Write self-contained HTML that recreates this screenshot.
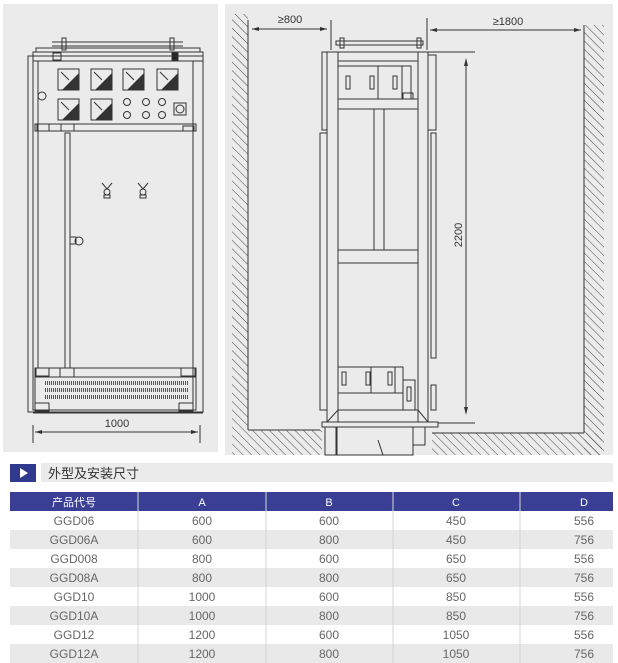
<!DOCTYPE html>
<html><head><meta charset="utf-8"><style>
body{margin:0;background:#fff;width:618px;height:663px;overflow:hidden;font-family:"Liberation Sans","Noto Sans CJK SC",sans-serif}
svg{display:block}
</style></head><body>
<svg width="618" height="663" viewBox="0 0 618 663" xmlns="http://www.w3.org/2000/svg" font-family="Liberation Sans, Noto Sans CJK SC, sans-serif">
<defs>
<pattern id="h" width="6" height="6" patternUnits="userSpaceOnUse" patternTransform="rotate(-45)"><line x1="0" y1="0" x2="0" y2="6" stroke="#333" stroke-width="0.9"/></pattern>
</defs>
<rect x="3" y="4" width="215" height="448" fill="#ebebeb"/>
<rect x="225" y="4" width="388" height="451" fill="#ebebeb"/>
<g fill="none" stroke="#333" stroke-width="1">
<line x1="52" y1="42" x2="183" y2="42"/><line x1="52" y1="46" x2="183" y2="46"/>
<rect x="62" y="38" width="4" height="12"/><rect x="170" y="38" width="4" height="12"/>
<rect x="36" y="48" width="164" height="4"/>
<rect x="33" y="52" width="170" height="9"/>
<rect x="53" y="53" width="8" height="7"/><rect x="172" y="53" width="6" height="7" fill="#222"/>
<rect x="28" y="56" width="175" height="356"/>
<rect x="33" y="61" width="160" height="349"/>
<line x1="38" y1="61" x2="38" y2="368"/><line x1="193" y1="61" x2="193" y2="368"/>
<rect x="58" y="69" width="21" height="21"/><rect x="91" y="69" width="21" height="21"/><rect x="123" y="69" width="21" height="21"/><rect x="157" y="69" width="21" height="21"/>
<rect x="58" y="99" width="21" height="21"/><rect x="91" y="99" width="21" height="21"/>
<circle cx="42" cy="96" r="4"/>
<circle cx="127" cy="102" r="3.5"/><circle cx="146" cy="102" r="3.5"/><circle cx="162" cy="102" r="3.5"/>
<circle cx="127" cy="115" r="3.5"/><circle cx="146" cy="115" r="3.5"/><circle cx="162" cy="115" r="3.5"/>
<rect x="174" y="103" width="12" height="12"/><circle cx="180" cy="109" r="4"/>
<rect x="35" y="124" width="161" height="7"/>
<rect x="37" y="124" width="12" height="7"/><rect x="61" y="124" width="13" height="7"/><rect x="183" y="126" width="11" height="5"/>
<rect x="65" y="133" width="5" height="235"/>
<rect x="70" y="237" width="6" height="7"/><circle cx="79" cy="241" r="4"/>
<rect x="35" y="368" width="161" height="9"/>
<rect x="36" y="368" width="13" height="8"/><rect x="60" y="368" width="14" height="9"/><rect x="181" y="368" width="14" height="8"/>
<rect x="35" y="377" width="161" height="33"/>
<rect x="35" y="403" width="14" height="8"/><rect x="179" y="403" width="14" height="8"/>
<line x1="33" y1="413" x2="203" y2="413"/>
<line x1="33" y1="425" x2="33" y2="443"/><line x1="200" y1="425" x2="200" y2="443"/>
<line x1="35" y1="432" x2="198" y2="432"/>
<line x1="248" y1="20" x2="248" y2="430"/><line x1="584" y1="25" x2="584" y2="433"/>
<line x1="248" y1="430" x2="320" y2="430"/><line x1="432" y1="433" x2="584" y2="433"/>
<line x1="331" y1="20" x2="331" y2="50"/><line x1="427" y1="18" x2="427" y2="50"/>
<line x1="252" y1="29" x2="327" y2="29"/><line x1="430" y1="30" x2="581" y2="30"/>
<rect x="336" y="41" width="87" height="4"/>
<rect x="340" y="38" width="4" height="10"/><rect x="417" y="38" width="4" height="10"/>
<line x1="322" y1="52" x2="475" y2="52"/>
<rect x="327" y="52" width="101" height="370"/>
<rect x="338" y="52" width="80" height="370"/>
<line x1="338" y1="61" x2="418" y2="61"/>
<rect x="322" y="52" width="5" height="78"/><rect x="428" y="55" width="8" height="75"/>
<rect x="320" y="133" width="7" height="277"/><rect x="431" y="133" width="5" height="225"/>
<rect x="431" y="385" width="5" height="25"/>
<rect x="338" y="66" width="40" height="33"/><rect x="378" y="66" width="24" height="33"/><rect x="402" y="66" width="9" height="33"/>
<rect x="346" y="76" width="4" height="13"/><rect x="370" y="76" width="4" height="13"/><rect x="393" y="76" width="4" height="13"/>
<rect x="403" y="93" width="10" height="6"/>
<line x1="338" y1="99" x2="418" y2="99"/><line x1="338" y1="109" x2="418" y2="109"/>
<rect x="374" y="109" width="10" height="141"/>
<rect x="338" y="250" width="80" height="13"/>
<rect x="338" y="367" width="33" height="26"/><rect x="371" y="367" width="24" height="26"/><rect x="395" y="367" width="8" height="26"/>
<rect x="342" y="372" width="4" height="13"/><rect x="366" y="372" width="4" height="13"/><rect x="388" y="372" width="4" height="13"/>
<rect x="403" y="380" width="12" height="30"/><rect x="407" y="387" width="4" height="14"/>
<line x1="338" y1="410" x2="418" y2="410"/>
<polygon points="327,422 428,422 418,410 338,410"/>
<rect x="322" y="422" width="116" height="5"/>
<rect x="325" y="427" width="11" height="28"/><rect x="337" y="427" width="76" height="28"/><rect x="413" y="427" width="12" height="18"/>
<line x1="378" y1="440" x2="383" y2="455"/>
<line x1="466" y1="60" x2="466" y2="413"/>
<line x1="438" y1="423" x2="475" y2="423"/>
</g>
<g fill="#333">
<polygon points="35,432 42,430 42,434"/><polygon points="198,432 191,430 191,434"/>
<polygon points="252,29 259,27 259,31"/><polygon points="327,29 320,27 320,31"/>
<polygon points="430,30 437,28 437,32"/><polygon points="581,30 574,28 574,32"/>
<polygon points="466,58 464,66 468,66"/><polygon points="466,415 464,407 468,407"/>
<polygon points="62,90 79,73 79,90"/><polygon points="95,90 112,73 112,90"/><polygon points="127,90 144,73 144,90"/><polygon points="161,90 178,73 178,90"/>
<polygon points="62,120 79,103 79,120"/><polygon points="95,120 112,103 112,120"/>
</g>
<g stroke="#333" stroke-width="1"><line x1="61" y1="72" x2="69" y2="80"/><line x1="94" y1="72" x2="102" y2="80"/><line x1="126" y1="72" x2="134" y2="80"/><line x1="160" y1="72" x2="168" y2="80"/><line x1="61" y1="102" x2="69" y2="110"/><line x1="94" y1="102" x2="102" y2="110"/></g>
<g stroke="#555" stroke-width="4" stroke-dasharray="1,1"><line x1="45" y1="383" x2="188" y2="383"/><line x1="45" y1="390" x2="188" y2="390"/><line x1="45" y1="397" x2="188" y2="397"/></g>
<g fill="none" stroke="#333"><circle cx="107" cy="192" r="3"/><circle cx="143" cy="192" r="3"/><path d="M102,183 L107,189 L112,183 M138,183 L143,189 L148,183"/><rect x="104" y="195" width="6" height="3"/><rect x="140" y="195" width="6" height="3"/></g>
<rect x="232" y="14" width="16" height="441" fill="url(#h)"/>
<rect x="248" y="430" width="74" height="25" fill="url(#h)"/>
<rect x="432" y="433" width="170" height="22" fill="url(#h)"/>
<rect x="584" y="25" width="20" height="430" fill="url(#h)"/>
<g fill="#333" font-size="11">
<text x="117" y="427" text-anchor="middle">1000</text>
<text x="290" y="23" text-anchor="middle">≥800</text>
<text x="508" y="25" text-anchor="middle">≥1800</text>
<text x="0" y="0" transform="translate(462,235) rotate(-90)" text-anchor="middle">2200</text>
</g>
<rect x="41" y="463" width="572" height="19" fill="#ebebeb"/>
<rect x="10" y="464" width="26" height="18" fill="#2f3a8f"/>
<polygon points="20,468 20,478 28,473" fill="#fff"/>
<text x="48" y="478" font-size="13" fill="#333">外型及安装尺寸</text>
<rect x="10" y="492" width="603" height="19" fill="#3a3f95"/>
<g fill="#e9e9e9"><rect x="10" y="530" width="603" height="19"/><rect x="10" y="568" width="603" height="19"/><rect x="10" y="606" width="603" height="19"/><rect x="10" y="644" width="603" height="19"/></g>
<g stroke="#d4d4d4"><line x1="138" y1="492" x2="138" y2="663"/><line x1="266" y1="492" x2="266" y2="663"/><line x1="393" y1="492" x2="393" y2="663"/><line x1="520" y1="492" x2="520" y2="663"/></g>
<g font-size="11" text-anchor="middle" fill="#fff"><text x="74" y="506">产品代号</text><text x="202" y="506">A</text><text x="329" y="506">B</text><text x="456" y="506">C</text><text x="584" y="506">D</text></g>
<g font-size="12" text-anchor="middle" fill="#666">
<text x="74" y="525">GGD06</text><text x="202" y="525">600</text><text x="329" y="525">600</text><text x="456" y="525">450</text><text x="584" y="525">556</text>
<text x="74" y="544">GGD06A</text><text x="202" y="544">600</text><text x="329" y="544">800</text><text x="456" y="544">450</text><text x="584" y="544">756</text>
<text x="74" y="563">GGD008</text><text x="202" y="563">800</text><text x="329" y="563">600</text><text x="456" y="563">650</text><text x="584" y="563">556</text>
<text x="74" y="582">GGD08A</text><text x="202" y="582">800</text><text x="329" y="582">800</text><text x="456" y="582">650</text><text x="584" y="582">756</text>
<text x="74" y="601">GGD10</text><text x="202" y="601">1000</text><text x="329" y="601">600</text><text x="456" y="601">850</text><text x="584" y="601">556</text>
<text x="74" y="620">GGD10A</text><text x="202" y="620">1000</text><text x="329" y="620">800</text><text x="456" y="620">850</text><text x="584" y="620">756</text>
<text x="74" y="639">GGD12</text><text x="202" y="639">1200</text><text x="329" y="639">600</text><text x="456" y="639">1050</text><text x="584" y="639">556</text>
<text x="74" y="658">GGD12A</text><text x="202" y="658">1200</text><text x="329" y="658">800</text><text x="456" y="658">1050</text><text x="584" y="658">756</text>
</g>
</svg>
</body></html>
